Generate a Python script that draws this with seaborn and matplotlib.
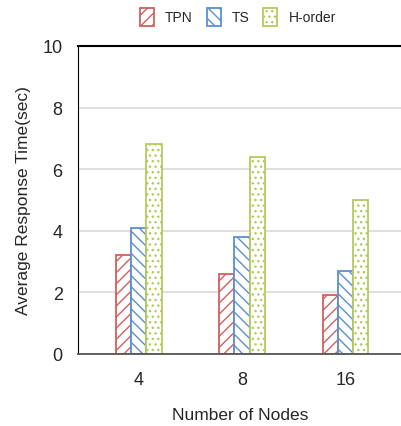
import pandas as pd
import numpy as np
import matplotlib.pyplot as plt
import seaborn as sns

# data
nodes = ['4', '8', '16']
tpn = [3.2, 2.6, 1.9]
ts = [4.1, 3.8, 2.7]
horder = [6.8, 6.4, 5.0]
series = ['TPN', 'TS', 'H-order']

df = pd.DataFrame({
    'Nodes': nodes * 3,
    'Method': [s for s in series for _ in nodes],
    'Time': tpn + ts + horder,
})

colors = ['#d0605e', '#5b8fd0', '#b3cb5a']
hatches = ['///', '\\\\\\', '...']

sns.set_style('white')
plt.rcParams['font.family'] = ['Liberation Sans', 'DejaVu Sans']
plt.rcParams['hatch.linewidth'] = 1.0

fig = plt.figure(figsize=(4.02, 4.27), dpi=100)
ax = fig.add_axes([0.194, 0.169, 0.806, 0.721])

sns.barplot(data=df, x='Nodes', y='Time', hue='Method', order=nodes,
            hue_order=series, width=0.44, legend=False, ax=ax)

for cont, c, h in zip(ax.containers, colors, hatches):
    for bar in cont:
        bar.set_facecolor('white')
        bar.set_edgecolor(c)
        bar.set_hatch(h)
        bar.set_linewidth(1.3)

ax.set_ylim(0, 10)
ax.set_xlim(-0.59, 2.55)
ax.set_yticks([0, 2, 4, 6, 8, 10])
ax.yaxis.grid(True, color='#d9d9d9', linewidth=1.2)
ax.set_axisbelow(True)

ax.spines['right'].set_visible(False)
ax.spines['left'].set_color('black')
ax.spines['top'].set_color('black')
ax.spines['top'].set_linewidth(1.5)
ax.spines['bottom'].set_color('#555555')
ax.spines['bottom'].set_linewidth(1.3)

ax.tick_params(axis='y', length=0, pad=11, labelsize=13)
ax.tick_params(axis='x', length=0, pad=12, labelsize=13)
ax.set_xlabel('Number of Nodes', fontsize=12.5, labelpad=14)
ax.set_ylabel('Average Response Time(sec)', fontsize=12.5, labelpad=8)

fig.legend(ax.containers, series, loc='center', bbox_to_anchor=(0.592, 0.958),
           ncol=3, frameon=False, fontsize=10, handlelength=1.0,
           handleheight=1.7, handletextpad=0.8, columnspacing=1.0)

plt.savefig('out.png', dpi=100)
